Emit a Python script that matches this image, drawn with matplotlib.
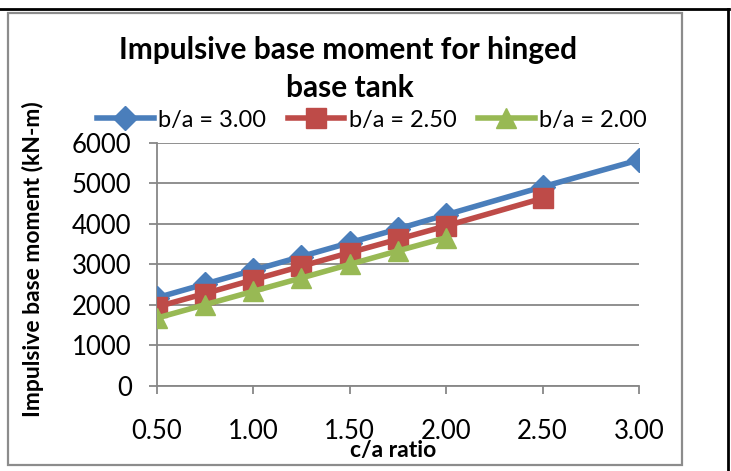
import matplotlib.pyplot as plt
from matplotlib.patches import Rectangle
from matplotlib.lines import Line2D

plt.rcParams['font.family'] = ['Lato', 'DejaVu Sans']

# Data
#._____________________

ca = [0.50, 0.75, 1.00, 1.25, 1.50, 1.75, 2.00, 2.50, 3.00]
m_b300 = [2170, 2510, 2850, 3190, 3530, 3870, 4220, 4910, 5575]
m_b250 = [1945, 2275, 2615, 2950, 3285, 3615, 3945, 4627]
m_b200 = [1670, 2000, 2330, 2660, 2995, 3330, 3655]

labels = ['b/a = 3.00', 'b/a = 2.50', 'b/a = 2.00']
xticks = [0.5, 1.0, 1.5, 2.0, 2.5, 3.0]
yticks = [0, 1000, 2000, 3000, 4000, 5000, 6000]

# Plot
#._____________________

W, H = 731, 471
fig = plt.figure(figsize=(W / 100, H / 100), dpi=100)
ax = fig.add_axes([156.7 / W, 1 - 385.7 / H, (639 - 156.7) / W, (385.7 - 142.7) / H])

grid = '#878787'
ax.plot(ca, m_b300, color='#4A7EBB', lw=4, marker='D', ms=12, label=labels[0], zorder=3)
ax.plot(ca[:8], m_b250, color='#BE4B48', lw=4, marker='s', ms=14, label=labels[1], zorder=4)
ax.plot(ca[:7], m_b200, color='#98B954', lw=4, marker='^', ms=14, label=labels[2], zorder=5)

ax.set_xlim(0.5, 3.0)
ax.set_ylim(0, 6000)
ax.set_xticks(xticks)
ax.set_xticklabels([F"{v:.2f}" for v in xticks])
ax.set_yticks(yticks)
ax.set_yticklabels([str(v) for v in yticks])
for s in ['top', 'right']:
    ax.spines[s].set_visible(False)
for s in ['left', 'bottom']:
    ax.spines[s].set_color(grid)
    ax.spines[s].set_linewidth(1.3)
    ax.spines[s].set_zorder(2)
ax.yaxis.grid(True, color=grid, lw=1.3)
ax.set_axisbelow(True)
ax.tick_params(axis='both', color=grid, width=1.3, length=6, labelsize=18.5)
ax.tick_params(axis='y', pad=12)
ax.tick_params(axis='x', pad=18)
ax.patch.set_alpha(0)

ax.set_xlabel('c/a ratio', fontsize=16.5, fontweight='bold')
ax.xaxis.set_label_coords(0.49, -(451 - 385.7) / (385.7 - 142.7))
ax.xaxis.label.set_va('center')
ax.set_ylabel('Impulsive base moment (kN-m)', fontsize=16.5, fontweight='bold')
ax.yaxis.set_label_coords(-113 / (639 - 156.7), 0.52)

fig.text(348 / W, 1 - 50 / H, 'Impulsive base moment for hinged', ha='center', va='center',
         fontsize=21.5, fontweight='bold')
fig.text(350 / W, 1 - 88 / H, 'base tank', ha='center', va='center',
         fontsize=21.5, fontweight='bold')

fig.legend(loc='center', bbox_to_anchor=(372 / W, 1 - 120 / H), ncol=3, frameon=False,
           fontsize=17, handlelength=2.4, handletextpad=0.2, columnspacing=0.9,
           borderaxespad=0)

# frame
fig.patches.append(Rectangle((8 / W, 1 - 465 / H), (682 - 8) / W, (465 - 13) / H,
                             transform=fig.transFigure, fill=False, ec='#8c8c8c', lw=1.6))
fig.lines.append(Line2D([0, 729 / W], [1 - 9 / H, 1 - 9 / H], transform=fig.transFigure,
                        color='black', lw=2))
fig.lines.append(Line2D([728 / W, 728 / W], [0, 1 - 9 / H], transform=fig.transFigure,
                        color='black', lw=2))

fig.savefig('out.png', dpi=100)
